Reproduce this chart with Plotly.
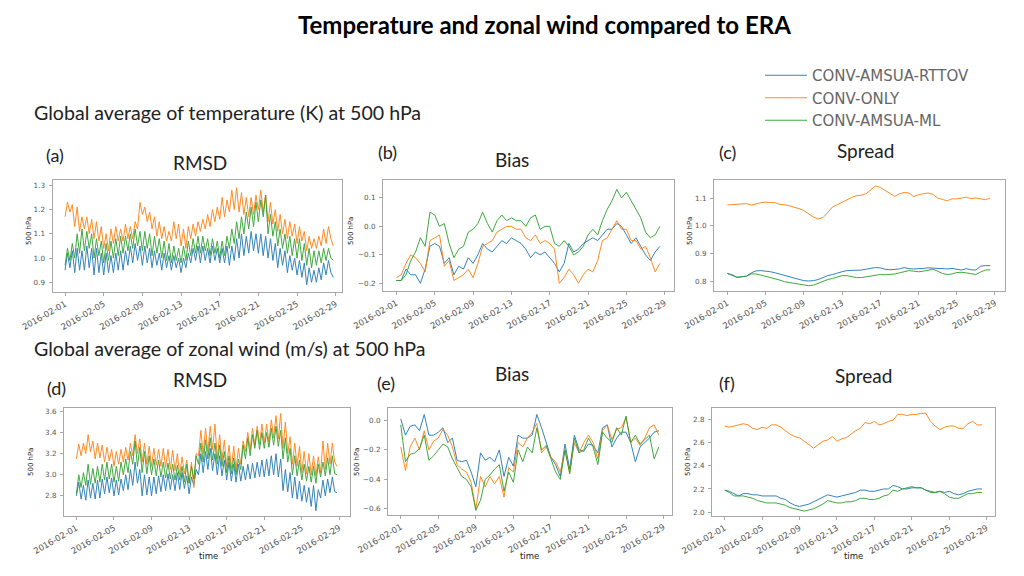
import pandas as pd
import plotly.graph_objects as go

W, H = 1024, 576
OX, OY = 8, 8  # page body margin compensation

series_names = ["CONV-AMSUA-RTTOV", "CONV-ONLY", "CONV-AMSUA-ML"]
colors = ["#1f77b4", "#ff7f0e", "#2ca02c"]

t6 = pd.date_range("2016-02-01", periods=112, freq="6h")
t12 = pd.date_range("2016-02-01", periods=56, freq="12h")
tick_dates = pd.date_range("2016-02-01", "2016-02-29", freq="4D")
tick_labels = [d.strftime("%Y-%m-%d") for d in tick_dates]

# (a) temperature RMSD (6-hourly)
a_rttov = [0.95,1.02,0.96,1.03, 0.94,1.04,0.95,1.03, 0.95,1.05,0.96,1.04, 0.93,1.04,0.94,1.02,
           0.93,1.02,0.94,1.01, 0.94,1.02,0.95,1.03, 0.95,1.03,0.97,1.05, 0.98,1.06,0.99,1.05,
           0.97,1.05,0.98,1.04, 0.96,1.03,0.97,1.02, 0.95,1.02,0.96,1.01, 0.95,1.01,0.96,1.00,
           0.94,1.00,0.96,1.02, 0.98,1.04,0.99,1.05, 0.98,1.05,0.99,1.04, 0.98,1.05,0.99,1.04,
           0.98,1.04,0.98,1.05, 0.97,1.05,0.99,1.08, 1.00,1.10,1.01,1.09, 1.02,1.11,1.03,1.10,
           1.02,1.10,1.01,1.09, 1.00,1.08,0.99,1.06, 0.96,1.04,0.97,1.03, 0.94,1.01,0.95,1.00,
           0.93,0.99,0.92,0.98, 0.89,0.96,0.90,0.95, 0.90,0.96,0.91,0.98, 0.93,0.99,0.94,0.92]
a_only = [1.17,1.23,1.19,1.22, 1.13,1.21,1.11,1.17, 1.12,1.17,1.10,1.16, 1.08,1.15,1.07,1.13,
          1.04,1.10,1.03,1.12, 1.06,1.13,1.07,1.12, 1.07,1.14,1.08,1.13, 1.08,1.15,1.12,1.23,
          1.18,1.21,1.15,1.19, 1.12,1.17,1.09,1.15, 1.08,1.13,1.07,1.11, 1.07,1.15,1.08,1.14,
          1.05,1.12,1.04,1.13, 1.08,1.14,1.09,1.15, 1.11,1.16,1.12,1.18, 1.13,1.20,1.15,1.21,
          1.16,1.25,1.17,1.24, 1.19,1.28,1.20,1.29, 1.19,1.27,1.18,1.25, 1.17,1.25,1.18,1.26,
          1.20,1.28,1.19,1.26, 1.15,1.23,1.14,1.20, 1.11,1.18,1.10,1.16, 1.08,1.15,1.09,1.14,
          1.06,1.13,1.07,1.11, 1.03,1.09,1.04,1.08, 1.04,1.09,1.05,1.12, 1.06,1.13,1.08,1.05]
a_ml = [0.97,1.04,0.99,1.06, 1.00,1.10,1.02,1.12, 1.03,1.11,1.04,1.10, 1.00,1.08,1.01,1.07,
        0.98,1.06,0.99,1.07, 1.00,1.08,1.01,1.09, 1.02,1.09,1.03,1.10, 1.04,1.12,1.05,1.11,
        1.03,1.11,1.04,1.10, 1.01,1.09,1.02,1.08, 1.00,1.07,0.99,1.06, 0.98,1.05,0.99,1.04,
        0.98,1.05,0.99,1.07, 1.01,1.08,1.02,1.09, 1.02,1.09,1.03,1.08, 1.01,1.08,1.02,1.07,
        1.00,1.07,1.01,1.09, 1.04,1.12,1.06,1.15, 1.08,1.17,1.10,1.19, 1.12,1.21,1.13,1.23,
        1.15,1.24,1.17,1.26, 1.10,1.18,1.09,1.15, 1.05,1.12,1.04,1.10, 1.02,1.09,1.01,1.08,
        1.00,1.08,0.99,1.06, 0.97,1.04,0.96,1.03, 0.97,1.03,0.98,1.04, 0.99,1.04,1.00,0.99]

# (b) temperature bias (12-hourly)
b_rttov = [-0.19,-0.19, -0.15,-0.17, -0.17,-0.20, -0.15,-0.07, -0.06,-0.07, -0.13,-0.11, -0.17,-0.14,
           -0.15,-0.11, -0.13,-0.10, -0.06,-0.08, -0.09,-0.07, -0.05,-0.06, -0.04,-0.05, -0.06,-0.08,
           -0.11,-0.09, -0.10,-0.09, -0.11,-0.13, -0.16,-0.13, -0.06,-0.09, -0.08,-0.06, -0.05,-0.04,
           -0.05,-0.03, -0.01,-0.01, 0.01,0.00, -0.03,-0.06, -0.04,-0.07, -0.10,-0.12, -0.09,-0.07]
b_only = [-0.18,-0.17, -0.13,-0.10, -0.11,-0.13, -0.16,-0.05, -0.04,-0.03, -0.14,-0.12, -0.19,-0.18,
          -0.17,-0.15, -0.18,-0.13, -0.07,-0.06, -0.05,-0.02, -0.01,0.00, 0.00,-0.01, -0.01,-0.04,
          -0.05,-0.03, -0.06,-0.05, -0.06,-0.08, -0.20,-0.18, -0.15,-0.17, -0.20,-0.17, -0.15,-0.16,
          -0.12,-0.05, -0.04,-0.01, 0.02,-0.01, -0.01,-0.05, -0.05,-0.08, -0.07,-0.11, -0.16,-0.13]
b_ml = [-0.19,-0.19, -0.17,-0.12, -0.09,-0.04, -0.07,0.05, 0.04,0.00, 0.01,-0.06, -0.11,-0.08,
        -0.07,-0.02, -0.01,0.01, 0.05,0.01, -0.02,0.02, 0.04,0.02, 0.03,0.02, 0.02,0.00,
        0.03,0.04, -0.01,0.00, 0.00,-0.06, -0.07,-0.05, -0.07,-0.10, -0.09,-0.07, -0.03,-0.01,
        -0.03,0.02, 0.06,0.09, 0.13,0.10, 0.12,0.09, 0.06,0.03, -0.02,-0.04, -0.03,0.00]

# (c) temperature spread (12-hourly)
c_rttov = [0.830,0.825, 0.816,0.817, 0.820,0.832, 0.839,0.840, 0.839,0.836, 0.832,0.827, 0.822,0.818,
           0.813,0.808, 0.804,0.803, 0.804,0.808, 0.815,0.822, 0.826,0.832, 0.836,0.840, 0.840,0.841,
           0.842,0.845, 0.848,0.851, 0.850,0.845, 0.843,0.844, 0.846,0.851, 0.847,0.846, 0.846,0.848,
           0.850,0.849, 0.846,0.845, 0.846,0.848, 0.845,0.842, 0.847,0.843, 0.842,0.856, 0.858,0.858]
c_only = [1.075,1.076, 1.077,1.078, 1.080,1.075, 1.080,1.083, 1.085,1.084, 1.083,1.077, 1.076,1.072,
          1.068,1.062, 1.055,1.042, 1.032,1.025, 1.030,1.048, 1.068,1.076, 1.085,1.092, 1.102,1.108,
          1.110,1.115, 1.130,1.143, 1.138,1.128, 1.118,1.106, 1.115,1.120, 1.118,1.105, 1.112,1.116,
          1.118,1.113, 1.100,1.095, 1.090,1.097, 1.097,1.100, 1.103,1.098, 1.100,1.097, 1.094,1.100]
c_ml = [0.830,0.824, 0.816,0.818, 0.820,0.828, 0.828,0.824, 0.820,0.815, 0.812,0.806, 0.800,0.797,
        0.795,0.792, 0.788,0.786, 0.788,0.795, 0.802,0.808, 0.812,0.818, 0.822,0.822, 0.818,0.815,
        0.815,0.818, 0.822,0.825, 0.826,0.825, 0.826,0.828, 0.832,0.836, 0.840,0.838, 0.836,0.838,
        0.842,0.845, 0.838,0.830, 0.826,0.828, 0.833,0.834, 0.832,0.828, 0.826,0.835, 0.842,0.843]

# (d) zonal wind RMSD (6-hourly)
d_rttov = [2.80,2.93,2.77,2.90, 2.76,2.95,2.78,2.92, 2.77,2.95,2.78,2.96, 2.82,2.98,2.83,2.97,
           2.80,2.95,2.81,2.96, 2.85,3.00,2.86,3.05, 2.90,3.12,2.92,3.05, 2.80,3.00,2.81,2.98,
           2.80,2.98,2.82,2.99, 2.84,3.00,2.85,3.01, 2.86,3.00,2.85,3.02, 2.86,3.02,2.87,2.99,
           2.82,2.98,2.90,3.05, 3.00,3.20,3.02,3.22, 3.05,3.25,3.04,3.20, 3.00,3.18,2.99,3.14,
           2.95,3.12,2.94,3.10, 2.93,3.10,2.94,3.08, 2.95,3.10,2.96,3.11, 2.97,3.12,2.98,3.14,
           2.98,3.15,2.99,3.18, 3.00,3.20,2.98,3.15, 2.85,3.05,2.84,3.02, 2.78,2.98,2.77,2.94,
           2.75,2.90,2.74,2.88, 2.70,2.90,2.66,2.86, 2.78,2.95,2.80,2.96, 2.83,2.98,2.84,2.83]
d_only = [3.15,3.29,3.18,3.30, 3.20,3.38,3.22,3.32, 3.15,3.30,3.16,3.28, 3.12,3.26,3.13,3.24,
          3.08,3.22,3.10,3.24, 3.12,3.26,3.14,3.30, 3.18,3.38,3.20,3.34, 3.12,3.30,3.10,3.27,
          3.08,3.25,3.09,3.24, 3.08,3.25,3.07,3.24, 3.05,3.23,3.04,3.20, 3.00,3.17,3.01,3.14,
          2.92,3.12,2.88,3.20, 3.18,3.42,3.20,3.44, 3.22,3.46,3.24,3.48, 3.15,3.38,3.14,3.33,
          3.08,3.28,3.06,3.27, 3.05,3.25,3.10,3.32, 3.22,3.40,3.24,3.44, 3.28,3.46,3.29,3.48,
          3.30,3.48,3.31,3.52, 3.35,3.56,3.34,3.58, 3.25,3.50,3.20,3.36, 3.10,3.30,3.08,3.27,
          3.02,3.22,3.01,3.20, 3.00,3.18,2.99,3.17, 3.02,3.32,3.05,3.30, 3.10,3.30,3.12,3.08]
d_ml = [2.82,3.00,2.88,3.02, 2.90,3.10,2.91,3.06, 2.92,3.08,2.93,3.10, 2.95,3.12,2.96,3.10,
        2.93,3.08,2.94,3.12, 3.00,3.15,3.02,3.22, 3.10,3.32,3.08,3.26, 3.02,3.22,3.01,3.18,
        3.00,3.15,2.99,3.14, 2.98,3.12,2.97,3.11, 2.96,3.10,2.95,3.09, 2.95,3.08,2.93,3.10,
        2.92,3.08,2.96,3.18, 3.10,3.30,3.12,3.33, 3.15,3.35,3.14,3.30, 3.10,3.28,3.08,3.22,
        3.02,3.18,3.01,3.16, 3.00,3.15,3.05,3.28, 3.15,3.35,3.18,3.38, 3.25,3.42,3.24,3.40,
        3.25,3.40,3.26,3.44, 3.28,3.46,3.27,3.42, 3.15,3.35,3.12,3.25, 3.00,3.18,2.99,3.14,
        2.95,3.10,2.94,3.08, 2.93,3.08,2.92,3.10, 2.98,3.12,2.99,3.16, 3.00,3.18,3.01,3.00]

# (e) zonal wind bias (12-hourly)
e_rttov = [0.01,-0.10, -0.04,-0.03, -0.07,0.04, -0.10,-0.10, -0.08,-0.05, -0.15,-0.12, -0.27,-0.28,
           -0.27,-0.35, -0.45,-0.22, -0.27,-0.25, -0.28,-0.20, -0.38,-0.25, -0.31,-0.10, -0.12,-0.12,
           -0.10,0.04, -0.05,-0.15, -0.25,-0.30, -0.38,-0.16, -0.33,-0.10, -0.20,-0.21, -0.16,-0.17,
           -0.22,-0.05, -0.03,-0.18, -0.12,-0.08, -0.08,-0.15, -0.28,-0.18, -0.15,-0.12, -0.08,-0.07]
e_only = [-0.18,-0.34, -0.18,-0.12, -0.20,-0.07, -0.20,-0.14, -0.12,-0.06, -0.10,-0.18, -0.30,-0.33,
          -0.35,-0.42, -0.60,-0.38, -0.45,-0.38, -0.43,-0.38, -0.52,-0.32, -0.35,-0.15, -0.18,-0.12,
          -0.08,-0.02, -0.22,-0.18, -0.25,-0.28, -0.35,-0.20, -0.36,-0.15, -0.22,-0.15, -0.10,-0.15,
          -0.26,-0.07, -0.03,-0.13, -0.06,-0.05, 0.02,-0.15, -0.12,-0.17, -0.12,-0.05, -0.03,-0.10]
e_ml = [-0.03,-0.28, -0.23,-0.22, -0.19,-0.10, -0.27,-0.24, -0.20,-0.16, -0.18,-0.26, -0.32,-0.38,
        -0.40,-0.45, -0.61,-0.54, -0.40,-0.37, -0.33,-0.30, -0.48,-0.35, -0.42,-0.20, -0.28,-0.18,
        -0.22,-0.05, -0.20,-0.17, -0.26,-0.35, -0.40,-0.20, -0.36,-0.12, -0.22,-0.20, -0.12,-0.18,
        -0.30,-0.08, -0.12,-0.15, -0.05,-0.10, 0.03,-0.15, -0.10,-0.16, -0.13,-0.10, -0.26,-0.18]

# (f) zonal wind spread (12-hourly)
f_rttov = [2.19,2.18, 2.16,2.14, 2.16,2.16, 2.15,2.15, 2.14,2.14, 2.14,2.14, 2.12,2.11,
           2.08,2.06, 2.05,2.06, 2.07,2.09, 2.11,2.13, 2.15,2.14, 2.13,2.14, 2.15,2.16,
           2.17,2.19, 2.19,2.18, 2.18,2.19, 2.20,2.20, 2.23,2.22, 2.20,2.20, 2.21,2.21,
           2.21,2.19, 2.18,2.17, 2.18,2.17, 2.18,2.16, 2.15,2.16, 2.18,2.19, 2.20,2.20]
f_only = [2.74,2.73, 2.74,2.75, 2.76,2.75, 2.72,2.71, 2.73,2.72, 2.75,2.75, 2.73,2.70,
          2.67,2.65, 2.64,2.61, 2.58,2.55, 2.58,2.61, 2.62,2.65, 2.61,2.63, 2.64,2.67,
          2.70,2.72, 2.77,2.76, 2.78,2.75, 2.76,2.78, 2.79,2.84, 2.84,2.83, 2.84,2.84,
          2.85,2.85, 2.78,2.74, 2.71,2.73, 2.74,2.74, 2.72,2.72, 2.76,2.78, 2.75,2.75]
f_ml = [2.19,2.17, 2.14,2.14, 2.14,2.13, 2.12,2.10, 2.09,2.08, 2.08,2.08, 2.07,2.06,
        2.04,2.03, 2.02,2.01, 2.02,2.03, 2.05,2.07, 2.10,2.09, 2.08,2.08, 2.09,2.09,
        2.10,2.12, 2.12,2.11, 2.11,2.12, 2.14,2.15, 2.19,2.18, 2.20,2.21, 2.22,2.21,
        2.21,2.19, 2.17,2.17, 2.18,2.16, 2.13,2.12, 2.12,2.14, 2.16,2.16, 2.17,2.17]

panels = [
    # times, series, x domain px, y domain px (top,bottom), yrange, yticks, xpad (left days, right days)
    (t6,  [a_rttov, a_only, a_ml], (52.5, 342), (180, 292), (0.86, 1.322), [0.9, 1.0, 1.1, 1.2, 1.3], (1.3, 0.65)),
    (t12, [b_rttov, b_only, b_ml], (383, 674), (180, 291), (-0.227, 0.163), [-0.2, -0.1, 0.0, 0.1], (1.4, 0.97)),
    (t12, [c_rttov, c_only, c_ml], (714, 1005), (180, 291), (0.767, 1.1645), [0.8, 0.9, 1.0, 1.1], (1.4, 1.05)),
    (t6,  [d_rttov, d_only, d_ml], (64, 350), (408, 516), (2.61, 3.632), [2.8, 3.0, 3.2, 3.4, 3.6], (1.32, 1.13)),
    (t12, [e_rttov, e_only, e_ml], (388, 672), (408, 515), (-0.641, 0.084), [-0.6, -0.4, -0.2, 0.0], (1.36, 0.9)),
    (t12, [f_rttov, f_only, f_ml], (712, 995), (408, 516), (1.968, 2.895), [2.0, 2.2, 2.4, 2.6, 2.8], (1.35, 0.89)),
]

fig = go.Figure()
layout = {}
axis_col = "#a8a8a8"
xtick_font = dict(family="DejaVu Sans", size=8.5, color="#555555")
ytick_font = dict(family="DejaVu Sans", size=7.2, color="#555555")
start = pd.Timestamp("2016-02-01")
end = pd.Timestamp("2016-02-29")

def px_x(p):
    return (p - OX) / W

def px_y(p):
    return 1 - (p - OY) / H

for i, (tt, ser, xd, yd, yr, yt, pad) in enumerate(panels, start=1):
    xa = "x" if i == 1 else f"x{i}"
    ya = "y" if i == 1 else f"y{i}"
    for k in range(3):
        fig.add_trace(go.Scatter(
            x=tt, y=ser[k], mode="lines", name=series_names[k],
            line=dict(color=colors[k], width=1), opacity=0.9,
            xaxis=xa, yaxis=ya, showlegend=(i == 1), legendgroup=f"g{k}",
        ))
    common = dict(showline=True, linecolor=axis_col, linewidth=1, mirror=True,
                  ticks="outside", ticklen=3, tickcolor=axis_col, showgrid=False,
                  zeroline=False, automargin=False)
    layout["xaxis" if i == 1 else f"xaxis{i}"] = dict(
        domain=[px_x(xd[0]), px_x(xd[1])], anchor=ya, type="date",
        range=[start - pd.Timedelta(days=pad[0]), end + pd.Timedelta(days=pad[1])],
        tickvals=list(tick_dates), ticktext=tick_labels, tickangle=-30,
        tickfont=xtick_font, **common)
    layout["yaxis" if i == 1 else f"yaxis{i}"] = dict(
        domain=[px_y(yd[1]), px_y(yd[0])], anchor=xa, range=list(yr),
        tickvals=yt, tickformat=".1f", ticklabelstandoff=2, tickfont=ytick_font, **common)

def ann(text, xp, yp, size, family="Lato", color="#222222", angle=0, xanchor="center"):
    return dict(text=text, x=px_x(xp), y=px_y(yp), xref="paper", yref="paper",
                showarrow=False, font=dict(family=family, size=size, color=color),
                textangle=angle, xanchor=xanchor, yanchor="middle")

annotations = [
    ann("<b>Temperature and zonal wind compared to ERA</b>", 544, 25, 24, color="#000000"),
    ann("Global average of temperature (K) at 500 hPa", 32, 113, 19.6, xanchor="left"),
    ann("Global average of zonal wind (m/s) at 500 hPa", 32, 348, 19.6, xanchor="left"),
    ann("(a)", 55, 155, 18), ann("RMSD", 200, 162, 19),
    ann("(b)", 387, 152, 18), ann("Bias", 512, 159, 19),
    ann("(c)", 727, 152, 18), ann("Spread", 865, 150, 19),
    ann("RMSD", 200, 379, 19), ann("(d)", 56, 388, 18),
    ann("Bias", 512, 373, 19), ann("(e)", 386, 383, 18),
    ann("Spread", 863, 375, 19), ann("(f)", 727, 383, 18),
]
for (xp, yp) in [(29, 231), (351, 231), (690, 231), (31, 462), (357, 462), (688, 462)]:
    annotations.append(ann("500 hPa", xp, yp, 7, family="DejaVu Sans", color="#222222", angle=-90))
for xp in [208, 529, 853]:
    annotations.append(ann("time", xp, 556, 8.5, family="DejaVu Sans", color="#222222"))

fig.update_layout(
    **layout,
    annotations=annotations,
    width=W, height=H,
    margin=dict(l=0, r=0, t=0, b=0, autoexpand=False),
    paper_bgcolor="white", plot_bgcolor="white",
    legend=dict(x=px_x(760), y=px_y(59), xanchor="left", yanchor="top",
                font=dict(family="DejaVu Sans", size=15, color="#666666"),
                bgcolor="rgba(0,0,0,0)", tracegroupgap=0, itemwidth=42),
)

fig.write_html("out.html")
